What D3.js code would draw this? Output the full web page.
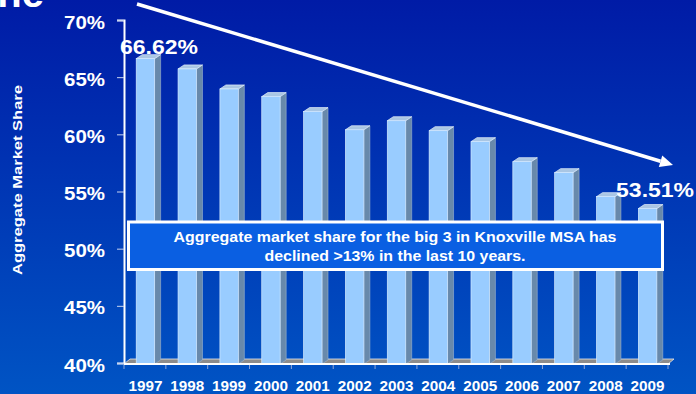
<!DOCTYPE html>
<html>
<head>
<meta charset="utf-8">
<script src="https://cdn.jsdelivr.net/npm/d3@7"></script>
<style>
  html, body { margin: 0; padding: 0; background: #0a2fb0; }
  svg { display: block; font-family: "Liberation Sans", Arial, sans-serif; }
</style>
</head>
<body>
<svg id="chart" width="696" height="394"></svg>
<script>
// Aggregate market share of the big 3 banks, Knoxville MSA
const years = ["1997","1998","1999","2000","2001","2002","2003","2004","2005","2006","2007","2008","2009"];
const share = [66.62, 65.72, 63.97, 63.30, 61.99, 60.40, 61.19, 60.32, 59.36, 57.61, 56.65, 54.55, 53.51];
const yTicks = [40, 45, 50, 55, 60, 65, 70];
const yTitle = "Aggregate Market Share";
const noteLines = [
  "Aggregate market share for the big 3 in Knoxville MSA has",
  "declined >13% in the last 10 years."
];
const headline = "Decline";

const W = 696, H = 394;
const svg = d3.select("#chart");

// background gradient
const defs = svg.append("defs");
const bg = defs.append("linearGradient").attr("id", "bg")
  .attr("x1", 0).attr("y1", 0).attr("x2", 0).attr("y2", 1);
bg.append("stop").attr("offset", "0%").attr("stop-color", "#001ba6");
bg.append("stop").attr("offset", "100%").attr("stop-color", "#0054c4");
svg.append("rect").attr("width", W).attr("height", H).attr("fill", "url(#bg)");

// slide headline, running off the top-left corner
svg.append("text")
  .attr("x", 44).attr("y", 7)
  .attr("text-anchor", "end")
  .attr("font-size", 40).attr("font-weight", "bold")
  .attr("fill", "#fff")
  .text(headline);

const x = d3.scaleBand().domain(years).range([124, 668]).padding(0);
const y = d3.scaleLinear().domain([40, 70]).range([363, 20]);
const bw = x.bandwidth();
const faceW = bw * 0.44;       // front face width
const depthX = 6, depthY = 4;  // 3D extrusion
const floorY = y(40) + 1;

// y axis: line, ticks, labels
const yAxis = svg.append("g").attr("transform", "translate(124,0)")
  .call(d3.axisLeft(y).tickValues(yTicks).tickSize(7).tickFormat(d => d + "%"));
yAxis.select(".domain").attr("stroke", "#fff").attr("stroke-width", 2);
yAxis.selectAll(".tick line").attr("stroke", "#c8d4f0").attr("stroke-width", 1);
yAxis.selectAll(".tick text")
  .attr("x", -19).attr("dy", null).attr("y", 8)
  .attr("fill", "#fff").attr("font-size", 19).attr("font-weight", "bold")
  .attr("textLength", 41).attr("lengthAdjust", "spacingAndGlyphs")
  .attr("font-family", "Liberation Sans, Arial, sans-serif");

// y axis title
svg.append("text")
  .attr("transform", "translate(22,180) rotate(-90)")
  .attr("text-anchor", "middle")
  .attr("font-size", 13.2).attr("font-weight", "bold").attr("fill", "#fff")
  .attr("textLength", 190).attr("lengthAdjust", "spacingAndGlyphs")
  .text(yTitle);

// floor of the 3D plot
const x0 = x.range()[0], x1 = x.range()[1];
svg.append("path")
  .attr("d", `M${x0},${floorY}L${x1},${floorY}L${x1 + depthX},${floorY - 5}L${x0 + depthX},${floorY - 5}Z`)
  .attr("fill", "#8c8c8c").attr("stroke", "#e8e8e8").attr("stroke-width", 0.8);

// bars
const bars = svg.append("g").selectAll("g").data(years.map((yr, i) => ({ yr, v: share[i] })))
  .join("g");
bars.each(function(d) {
  const g = d3.select(this);
  const cx = x(d.yr) + bw / 2 + 0.5;
  const l = cx - faceW / 2, r = cx + faceW / 2;
  const t = y(d.v), b = floorY;
  // side face
  g.append("path")
    .attr("d", `M${r},${t}L${r + depthX},${t - depthY}L${r + depthX},${b - depthY}L${r},${b}Z`)
    .attr("fill", "#6889ab").attr("stroke", "#9fb6cf").attr("stroke-width", 0.6);
  // top face
  g.append("path")
    .attr("d", `M${l},${t}L${l + depthX},${t - depthY}L${r + depthX},${t - depthY}L${r},${t}Z`)
    .attr("fill", "#a9c6e4").attr("stroke", "#e6f0fb").attr("stroke-width", 0.7);
  // front face
  g.append("rect")
    .attr("x", l).attr("y", t).attr("width", faceW).attr("height", b - t)
    .attr("fill", "#99ccff").attr("stroke", "#d6ebff").attr("stroke-width", 0.7);
});

// x axis line, ticks and year labels
const xAxis = svg.append("g").attr("transform", `translate(0,${floorY})`);
xAxis.append("line").attr("x1", x0).attr("x2", x1 + 2).attr("stroke", "#fff").attr("stroke-width", 2);
xAxis.selectAll("line.tick").data(years.concat(["end"])).join("line")
  .attr("class", "tick")
  .attr("x1", (d, i) => x0 + i * bw).attr("x2", (d, i) => x0 + i * bw)
  .attr("y1", 1).attr("y2", 5)
  .attr("stroke", "#8fa6d6").attr("stroke-width", 1);
xAxis.selectAll("text").data(years).join("text")
  .attr("x", d => x(d) + bw / 2 + 0.5).attr("y", 27)
  .attr("text-anchor", "middle")
  .attr("font-size", 14).attr("font-weight", "bold").attr("fill", "#fff")
  .attr("textLength", 34).attr("lengthAdjust", "spacingAndGlyphs")
  .text(d => d);

// value labels on the first and last bars
const endLabels = [
  { i: 0, dx: 14, dy: -5 },
  { i: years.length - 1, dx: 8, dy: -12 }
];
svg.selectAll("text.vlabel").data(endLabels).join("text")
  .attr("class", "vlabel")
  .attr("x", d => x(years[d.i]) + bw / 2 + d.dx)
  .attr("y", d => y(share[d.i]) + d.dy)
  .attr("text-anchor", "middle")
  .attr("font-size", 20).attr("font-weight", "bold").attr("fill", "#fff")
  .attr("textLength", 78).attr("lengthAdjust", "spacingAndGlyphs")
  .text(d => share[d.i].toFixed(2) + "%");

// downward trend arrow
const arrowStart = [137, 4], arrowEnd = [673, 165];
const ang = Math.atan2(arrowEnd[1] - arrowStart[1], arrowEnd[0] - arrowStart[0]);
const headLen = 13, headHalf = 6;
const baseX = arrowEnd[0] - headLen * Math.cos(ang), baseY = arrowEnd[1] - headLen * Math.sin(ang);
svg.append("line")
  .attr("x1", arrowStart[0]).attr("y1", arrowStart[1])
  .attr("x2", baseX).attr("y2", baseY)
  .attr("stroke", "#fff").attr("stroke-width", 3.5);
svg.append("path")
  .attr("d", `M${arrowEnd[0]},${arrowEnd[1]}` +
    `L${baseX + headHalf * Math.sin(ang)},${baseY - headHalf * Math.cos(ang)}` +
    `L${baseX - headHalf * Math.sin(ang)},${baseY + headHalf * Math.cos(ang)}Z`)
  .attr("fill", "#fff");

// callout box
const box = svg.append("g");
box.append("rect")
  .attr("x", 128.5).attr("y", 222).attr("width", 534).attr("height", 47.5)
  .attr("fill", "#0a5fe2").attr("stroke", "#fff").attr("stroke-width", 3);
box.selectAll("text").data(noteLines).join("text")
  .attr("x", 395).attr("y", (d, i) => 241.7 + i * 19)
  .attr("text-anchor", "middle")
  .attr("font-size", 15).attr("font-weight", "bold").attr("fill", "#fff")
  .attr("textLength", (d, i) => i === 0 ? 443 : 261).attr("lengthAdjust", "spacingAndGlyphs")
  .text(d => d);
</script>
</body>
</html>
